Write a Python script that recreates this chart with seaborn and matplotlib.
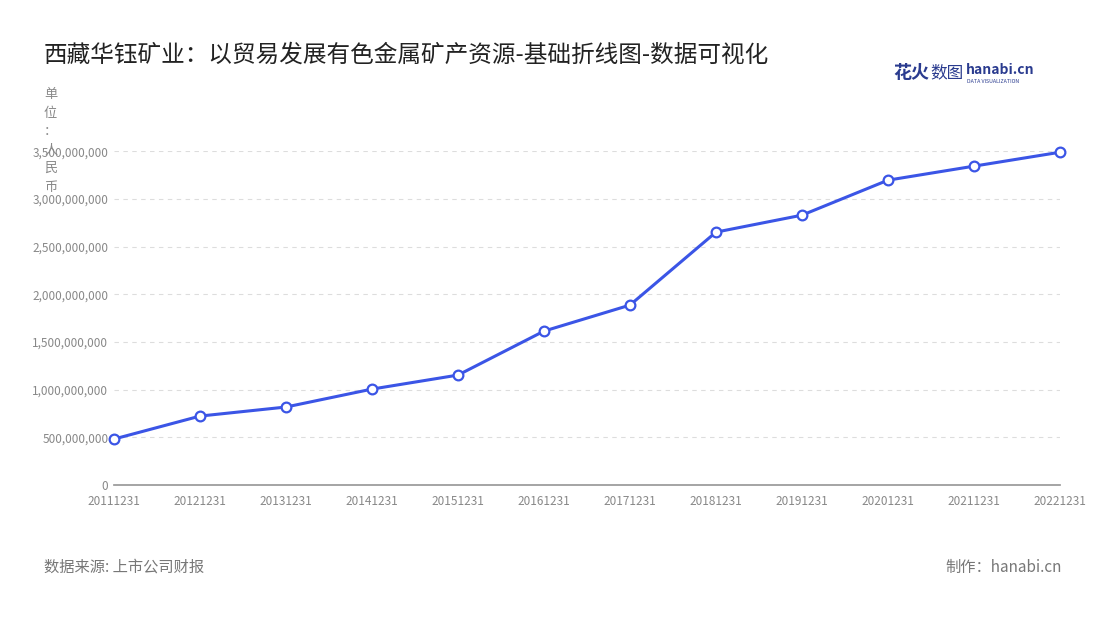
import matplotlib
matplotlib.use("Agg")
import matplotlib.pyplot as plt
import seaborn as sns
import pandas as pd

dates = ["20111231","20121231","20131231","20141231","20151231","20161231",
         "20171231","20181231","20191231","20201231","20211231","20221231"]
values = [482e6, 723e6, 818e6, 1006e6, 1153e6, 1614e6,
          1887e6, 2652e6, 2830e6, 3197e6, 3344e6, 3490e6]
yticks = [0, 5e8, 1e9, 1.5e9, 2e9, 2.5e9, 3e9, 3.5e9]

sns.set_theme(style="white")
plt.rcParams['font.family'] = ['Noto Sans CJK SC', 'DejaVu Sans']

df = pd.DataFrame({"x": range(len(dates)), "v": values})
fig = plt.figure(figsize=(11, 6.2), dpi=100)
ax = fig.add_axes([0.1036, 0.2177, 0.86, 0.5383])
sns.lineplot(data=df, x="x", y="v", ax=ax, color="#3b55e6", linewidth=2.2,
             marker="o", markersize=7, markerfacecolor="white",
             markeredgecolor="#3b55e6", markeredgewidth=1.6, zorder=3)
ax.set_xlim(0, len(dates) - 1)
ax.set_ylim(0, 3.5e9)
ax.set_xticks(range(len(dates)))
ax.set_xticklabels(dates, fontsize=8.5, color="#888888")
ax.set_yticks(yticks)
ax.set_yticklabels([f"{int(t):,}" for t in yticks], fontsize=8.5, color="#888888")
ax.set_xlabel(""); ax.set_ylabel("")
for s in ["top", "right", "left"]:
    ax.spines[s].set_visible(False)
ax.spines["bottom"].set_color("#999999")
ax.tick_params(axis="x", length=4, color="#999999", pad=3)
ax.tick_params(axis="y", length=0, pad=4)
ax.yaxis.grid(True, linestyle=(0, (4, 4)), color="#dddddd", linewidth=0.8)
ax.set_axisbelow(True)
for l in ax.lines:
    l.set_clip_on(False)

fig.text(0.04, 0.911, "西藏华钰矿业：以贸易发展有色金属矿产资源-基础折线图-数据可视化",
         fontsize=17, color="#222222", va="center")
fig.text(0.046, 0.858, "单\n位\n：\n人\n民\n币", fontsize=9.5, color="#888888",
         va="top", ha="center", linespacing=1.55)
fig.text(0.04, 0.085, "数据来源: 上市公司财报", fontsize=11, color="#777777", va="center")
fig.text(0.965, 0.085, "制作：hanabi.cn", fontsize=11, color="#777777", va="center", ha="right")
fig.text(0.812, 0.883, "花火", fontsize=13, color="#2a3b8f", fontweight="bold", va="center")
fig.text(0.846, 0.883, "数图", fontsize=12, color="#2a3b8f", va="center")
fig.text(0.878, 0.887, "hanabi.cn", fontsize=10, color="#2a3b8f", fontweight="bold", va="center")
fig.text(0.879, 0.869, "DATA VISUALIZATION", fontsize=3.8, color="#2a3b8f", va="center")
fig.savefig("out.png", dpi=100, facecolor="white")
